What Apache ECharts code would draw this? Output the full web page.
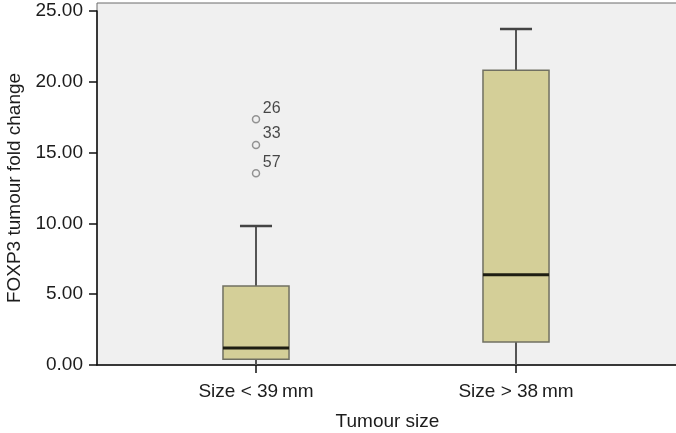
<!DOCTYPE html>
<html><head><meta charset="utf-8">
<script src="https://cdn.jsdelivr.net/npm/echarts@6/dist/echarts.min.js"></script>
<style>html,body{margin:0;padding:0;background:#fff}#c{width:676px;height:433px}</style>
</head><body><div id="c"></div>
<script>
const categories = ["Size < 39\u2009mm", "Size > 38\u2009mm"];
const whiskerLow = [0.0, 0.0];
const q1 = [0.40, 1.62];
const median = [1.20, 6.38];
const q3 = [5.58, 20.81];
const whiskerHigh = [9.82, 23.73];
const outlierCategory = [0, 0, 0];
const outlierValues = [17.35, 15.54, 13.54];
const outlierLabels = ["26", "33", "57"];
const yTicks = [0, 5, 10, 15, 20, 25];

const boxData = categories.map((c, i) => [i, whiskerLow[i], q1[i], median[i], q3[i], whiskerHigh[i]]);
const outData = outlierValues.map((v, i) => ({ value: [outlierCategory[i], v], label: { formatter: outlierLabels[i] } }));

const font = 'Liberation Sans, Arial, sans-serif';
const txt = '#1c1c1c';
const chart = echarts.init(document.getElementById('c'));
chart.setOption({
  animation: false,
  grid: [
    { left: 97, right: -2, top: 3, bottom: 68, show: true, backgroundColor: '#f0f0f0', borderColor: '#6a6a6a', borderWidth: 1, outerBoundsMode: 'none', containLabel: false },
    { left: 126, right: 30, top: 11, bottom: 68, outerBoundsMode: 'none', containLabel: false }
  ],
  xAxis: [
    { gridIndex: 0, type: 'value', min: 0, max: 1, axisLabel: { show: false }, axisTick: { show: false }, splitLine: { show: false },
      axisLine: { show: true, lineStyle: { color: '#111', width: 1.5 } },
      name: 'Tumour size', nameLocation: 'middle', nameGap: 47, nameTextStyle: { fontSize: 19, color: txt, fontFamily: font } },
    { gridIndex: 1, type: 'category', data: categories, axisLine: { show: false },
      axisTick: { show: true, alignWithLabel: true, length: 8, lineStyle: { color: '#111', width: 1.5 } },
      axisLabel: { fontSize: 19, color: txt, fontFamily: font, margin: 17 } }
  ],
  yAxis: [
    { gridIndex: 0, type: 'value', min: 0, max: 1, show: false },
    { gridIndex: 1, type: 'value', min: yTicks[0], max: yTicks[yTicks.length - 1], interval: 5, offset: 29,
      axisLine: { show: true, lineStyle: { color: '#111', width: 1.5 } },
      axisTick: { show: true, length: 8, lineStyle: { color: '#111', width: 1.5 } },
      axisLabel: { fontSize: 19, color: txt, fontFamily: font, margin: 14, formatter: v => v.toFixed(2) },
      splitLine: { show: false },
      name: 'FOXP3 tumour fold change', nameLocation: 'middle', nameGap: 72, nameRotate: 90,
      nameTextStyle: { fontSize: 19, color: txt, fontFamily: font } }
  ],
  series: [
    {
      type: 'custom', xAxisIndex: 1, yAxisIndex: 1, clip: false,
      data: boxData,
      renderItem: function (params, api) {
        const x = api.value(0);
        const band = api.size([1, 0])[0];
        const half = band * 0.127;
        const cap = half * 0.485;
        const pLo = api.coord([x, api.value(1)]);
        const pQ1 = api.coord([x, api.value(2)]);
        const pMed = api.coord([x, api.value(3)]);
        const pQ3 = api.coord([x, api.value(4)]);
        const pHi = api.coord([x, api.value(5)]);
        const cx = pQ1[0];
        const wStyle = { stroke: '#555', lineWidth: 2, fill: null };
        return {
          type: 'group',
          children: [
            { type: 'line', shape: { x1: cx, y1: pQ3[1], x2: cx, y2: pHi[1] }, style: wStyle },
            { type: 'line', shape: { x1: cx - cap, y1: pHi[1], x2: cx + cap, y2: pHi[1] }, style: { stroke: '#444', lineWidth: 2.5 } },
            { type: 'line', shape: { x1: cx, y1: pQ1[1], x2: cx, y2: pLo[1] }, style: wStyle },
            { type: 'rect', shape: { x: cx - half, y: pQ3[1], width: half * 2, height: pQ1[1] - pQ3[1] },
              style: { fill: '#d4cf98', stroke: '#707062', lineWidth: 1.5 } },
            { type: 'line', shape: { x1: cx - half, y1: pMed[1], x2: cx + half, y2: pMed[1] },
              style: { stroke: '#1e1e12', lineWidth: 3 } }
          ]
        };
      }
    },
    {
      type: 'scatter', xAxisIndex: 1, yAxisIndex: 1,
      data: outData, symbol: 'circle', symbolSize: 7,
      itemStyle: { color: '#f0f0f0', borderColor: '#7a7a7a', borderWidth: 1.5 },
      label: { show: true, position: 'right', distance: 2.5, offset: [0, -11], fontSize: 16, color: txt, fontFamily: font }
    }
  ]
});
</script></body></html>
